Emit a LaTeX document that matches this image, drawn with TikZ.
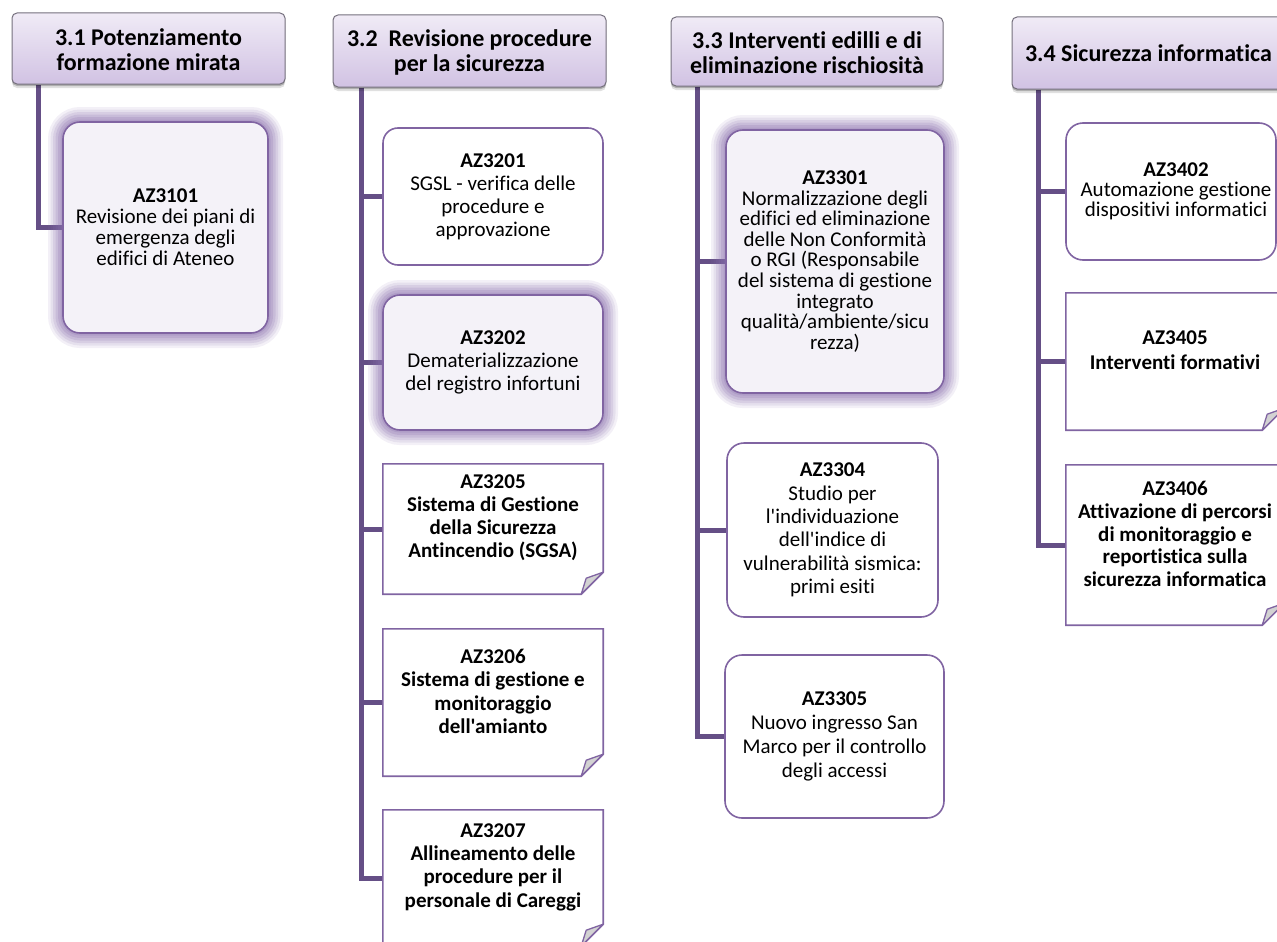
\documentclass[tikz,border=0pt]{standalone}
\usepackage{fontspec}
\setmainfont{Carlito}[Ligatures={TeXOff,NoCommon}]
\usetikzlibrary{fit,shadows}

\definecolor{trunk}{HTML}{654F86}
\definecolor{edge}{HTML}{8064A2}
\definecolor{glowc}{HTML}{8A70AD}
\definecolor{softfill}{HTML}{F4F2F8}
\definecolor{headtop}{HTML}{F0EBF6}
\definecolor{headbot}{HTML}{D1C2E3}
\definecolor{headedge}{HTML}{75707D}
\definecolor{foldfill}{HTML}{D2D2D2}

\pgfdeclarelayer{links}
\pgfsetlayers{links,main}

\tikzset{
  conn/.style={draw=trunk, line width=5pt, line join=miter},
  head/.style={draw=headedge, line width=1pt, rounded corners=5pt,
    top color=headtop, bottom color=headbot, inner sep=0pt,
    drop shadow={shadow xshift=0pt, shadow yshift=-4pt, opacity=.12, fill=black},
    drop shadow={shadow xshift=0pt, shadow yshift=-2pt, opacity=.22, fill=black}},
  headtxt/.style={align=center, inner sep=0pt, font=\bfseries\fontsize{24}{25}\selectfont},
  glow/.style={
    preaction={draw=glowc, draw opacity=.10, line width=30pt},
    preaction={draw=glowc, draw opacity=.13, line width=25pt},
    preaction={draw=glowc, draw opacity=.16, line width=20pt},
    preaction={draw=glowc, draw opacity=.19, line width=15pt},
    preaction={draw=glowc, draw opacity=.22, line width=10pt},
    preaction={draw=glowc, draw opacity=.24, line width=5pt}},
  rbox/.style={draw=edge, line width=1.6pt, fill=white, rounded corners=17pt, inner sep=0pt},
  gbox/.style={rbox, fill=softfill, glow},
  sframe/.style={inner sep=0pt},
  snip/.style={draw=edge, line width=1.6pt, fill=white, line join=miter},
  fold/.style={draw=edge, line width=1.3pt, fill=foldfill, line join=round},
  txt/.style={align=center, inner sep=0pt, font=\fontsize{21}{#1}\selectfont},
  txt/.default=23pt,
  btxt/.style={align=center, inner sep=0pt, font=\bfseries\fontsize{21}{#1}\selectfont},
  btxt/.default=23pt
}

% note-shaped box: rectangle with the lower right corner folded over
\newcommand\notepanel[1]{%
  \draw[snip] (#1.north west) -- (#1.north east) -- ([yshift=22pt]#1.south east)
    -- ([xshift=-22pt]#1.south east) -- (#1.south west) -- cycle;
  \draw[fold] ([yshift=22pt]#1.south east) -- ([xshift=-22pt]#1.south east)
    -- ([xshift=-17pt,yshift=16pt]#1.south east) -- cycle;
}

\begin{document}
\begin{tikzpicture}[x=1pt,y=-1pt]
\useasboundingbox (0,0) rectangle (1277,942);

% ---------- headers ----------
\node[head, fit={(12,13)(285,84)}] (h1) {};
\node[headtxt] (h1t) at ([yshift=-1pt]h1.center) {3.1 Potenziamento\\formazione mirata};
\node[head, fit={(333,15)(606,87)}] (h2) {};
\node[headtxt] (h2t) at ([yshift=-1pt]h2.center) {3.2\ \ Revisione procedure\\per la sicurezza};
\node[head, fit={(671,17)(943,86)}] (h3) {};
\node[headtxt] (h3t) at ([yshift=-1pt]h3.center) {3.3 Interventi edilli e di\\eliminazione rischiosità};
\node[head, fit={(1012,17)(1285,89)}] (h4) {};
\node[headtxt] (h4t) at (h4.center) {3.4 Sicurezza informatica};

\coordinate (r1) at ([xshift=27pt]h1.south west);
\coordinate (r2) at ([xshift=29pt]h2.south west);
\coordinate (r3) at ([xshift=27pt]h3.south west);
\coordinate (r4) at ([xshift=27pt]h4.south west);

% ---------- column 3.1 ----------
\node[gbox, fit={(63,122)(268,333)}] (b3101) {};
\node[txt=21pt] (t3101) at (b3101.center)
  {\textbf{AZ3101}\\Revisione dei piani di\\emergenza degli\\edifici di Ateneo};

% ---------- column 3.2 ----------
\node[rbox, rounded corners=15pt, fit={(383,128)(603,265)}] (b3201) {};
\node[txt] (t3201) at (b3201.center)
  {\textbf{AZ3201}\\SGSL - verifica delle\\procedure e\\approvazione};
\node[gbox, fit={(383,295)(603,430)}] (b3202) {};
\node[txt] (t3202) at (b3202.center)
  {\textbf{AZ3202}\\Dematerializzazione\\del registro infortuni};
\node[sframe, fit={(383,464)(603,594)}] (b3205) {};
\notepanel{b3205}
\node[btxt] (t3205) at ([yshift=11pt]b3205.center)
  {AZ3205\\Sistema di Gestione\\della Sicurezza\\Antincendio (SGSA)};
\node[sframe, fit={(383,629)(603,776)}] (b3206) {};
\notepanel{b3206}
\node[btxt=23.3pt] (t3206) at ([yshift=11pt]b3206.center)
  {AZ3206\\Sistema di gestione e\\monitoraggio\\dell'amianto};
\node[sframe, fit={(383,810)(603,946)}] (b3207) {};
\notepanel{b3207}
\node[btxt=23.3pt] (t3207) at ([yshift=11pt]b3207.center)
  {AZ3207\\Allineamento delle\\procedure per il\\personale di Careggi};

% ---------- column 3.3 ----------
\node[gbox, fit={(726,130)(944,393)}] (b3301) {};
\node[txt=20.6pt] (t3301) at (b3301.center)
  {\textbf{AZ3301}\\Normalizzazione degli\\edifici ed eliminazione\\delle Non Conformità\\o RGI (Responsabile\\del sistema di gestione\\integrato\\qualità/ambiente/sicu\\rezza)};
\node[rbox, fit={(727,443)(938,617)}] (b3304) {};
\node[txt=23.3pt] (t3304) at (b3304.center)
  {\textbf{AZ3304}\\Studio per\\l'individuazione\\dell'indice di\\vulnerabilità sismica:\\primi esiti};
\node[rbox, fit={(725,655)(944,818)}] (b3305) {};
\node[txt=24pt] (t3305) at (b3305.center)
  {\textbf{AZ3305}\\Nuovo ingresso San\\Marco per il controllo\\degli accessi};

% ---------- column 3.4 ----------
\node[rbox, fit={(1066,123)(1276,260)}] (b3402) {};
\node[txt=20pt] (t3402) at ([xshift=5pt]b3402.center)
  {\textbf{AZ3402}\\Automazione gestione\\dispositivi informatici};
\node[sframe, fit={(1066,293)(1284,430)}] (b3405) {};
\notepanel{b3405}
\node[btxt=25pt] (t3405) at ([yshift=11pt]b3405.center)
  {AZ3405\\Interventi formativi};
\node[sframe, fit={(1066,465)(1284,625)}] (b3406) {};
\notepanel{b3406}
\node[btxt=22.7pt] (t3406) at ([yshift=11pt]b3406.center)
  {AZ3406\\Attivazione di percorsi\\di monitoraggio e\\reportistica sulla\\sicurezza informatica};

% ---------- connectors ----------
\begin{pgfonlayer}{links}
\draw[conn] (r1) |- (b3101.west);
\draw[conn] (r2) |- (b3201.west);
\draw[conn] (r2) |- (b3202.west);
\draw[conn] (r2) |- (b3205.west);
\draw[conn] (r2) |- (b3206.west);
\draw[conn] (r2) |- (b3207.west);
\draw[conn] (r3) |- (b3301.west);
\draw[conn] (r3) |- (b3304.west);
\draw[conn] (r3) |- (b3305.west);
\draw[conn] (r4) |- (b3402.west);
\draw[conn] (r4) |- (b3405.west);
\draw[conn] (r4) |- (b3406.west);
\end{pgfonlayer}
\end{tikzpicture}
\end{document}
